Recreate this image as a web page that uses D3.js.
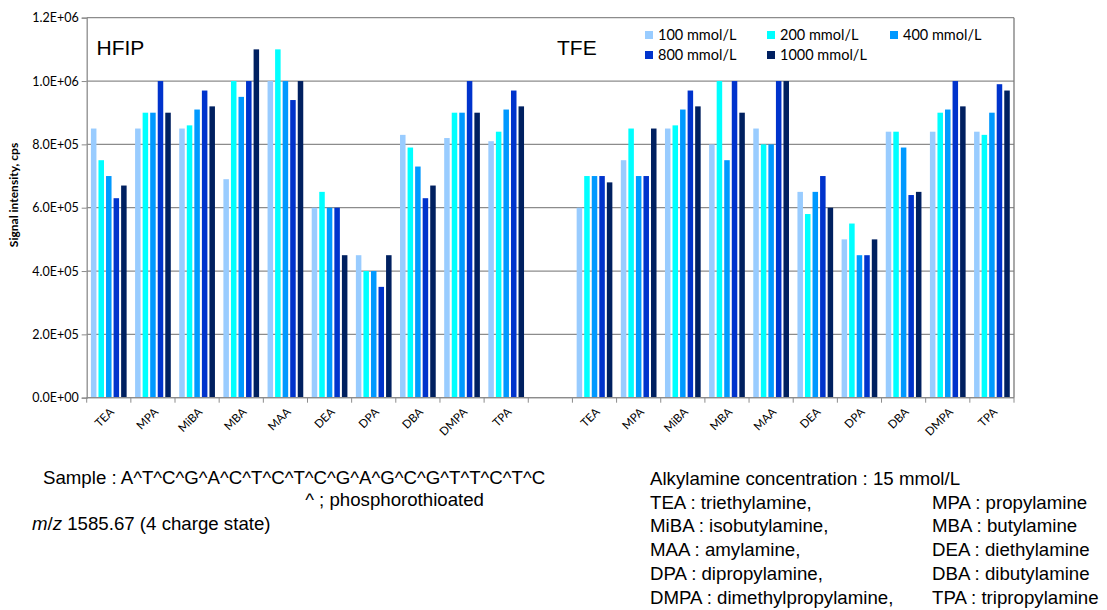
<!DOCTYPE html>
<html><head><meta charset="utf-8">
<script src="https://cdn.jsdelivr.net/npm/d3@7"></script>
<style>body{margin:0;background:#fff}svg{display:block}</style>
</head><body><svg id="c" width="1107" height="610"></svg>
<script>
// ---- data (values in cps) ----
const categories = ["TEA","MPA","MiBA","MBA","MAA","DEA","DPA","DBA","DMPA","TPA"];
const solvents = ["HFIP","TFE"];
const series = ["100 mmol/L","200 mmol/L","400 mmol/L","800 mmol/L","1000 mmol/L"];
const colors = ["#99CCFF","#00FFFF","#0099FF","#0033CC","#002060"];

const hfip100  = [8.5e5,8.5e5,8.5e5,6.9e5,1.0e6,6.0e5,4.5e5,8.3e5,8.2e5,8.1e5];
const hfip200  = [7.5e5,9.0e5,8.6e5,1.0e6,1.1e6,6.5e5,4.0e5,7.9e5,9.0e5,8.4e5];
const hfip400  = [7.0e5,9.0e5,9.1e5,9.5e5,1.0e6,6.0e5,4.0e5,7.3e5,9.0e5,9.1e5];
const hfip800  = [6.3e5,1.0e6,9.7e5,1.0e6,9.4e5,6.0e5,3.5e5,6.3e5,1.0e6,9.7e5];
const hfip1000 = [6.7e5,9.0e5,9.2e5,1.1e6,1.0e6,4.5e5,4.5e5,6.7e5,9.0e5,9.2e5];

const tfe100  = [6.0e5,7.5e5,8.5e5,8.0e5,8.5e5,6.5e5,5.0e5,8.4e5,8.4e5,8.4e5];
const tfe200  = [7.0e5,8.5e5,8.6e5,1.0e6,8.0e5,5.8e5,5.5e5,8.4e5,9.0e5,8.3e5];
const tfe400  = [7.0e5,7.0e5,9.1e5,7.5e5,8.0e5,6.5e5,4.5e5,7.9e5,9.1e5,9.0e5];
const tfe800  = [7.0e5,7.0e5,9.7e5,1.0e6,1.0e6,7.0e5,4.5e5,6.4e5,1.0e6,9.9e5];
const tfe1000 = [6.8e5,8.5e5,9.2e5,9.0e5,1.0e6,6.0e5,5.0e5,6.5e5,9.2e5,9.7e5];

const yTicks = [0,2e5,4e5,6e5,8e5,1.0e6,1.2e6];
const yTitle = "Signal intensity, cps";

const hfipSeries = [hfip100,hfip200,hfip400,hfip800,hfip1000];
const tfeSeries  = [tfe100,tfe200,tfe400,tfe800,tfe1000];

// slots: 10 HFIP categories, one empty slot, 10 TFE categories
const slots = [];
categories.forEach((c,i)=>slots.push({key:"H"+i,label:c,solvent:0,idx:i}));
slots.push({key:"gap",label:"",solvent:-1,idx:-1});
categories.forEach((c,i)=>slots.push({key:"T"+i,label:c,solvent:1,idx:i}));

const bars = [];
slots.forEach(s=>{
  if(s.solvent<0) return;
  const src = s.solvent===0 ? hfipSeries : tfeSeries;
  series.forEach((name,k)=>bars.push({slot:s.key,series:name,k:k,value:src[k][s.idx]}));
});

// ---- layout ----
const svg = d3.select("#c");
const L = 86.7, R = 1014, T = 17.7, B = 397.7;

const x = d3.scaleBand().domain(slots.map(s=>s.key)).range([L,R]).padding(0);
const xi = d3.scaleBand().domain(series).range([0,x.bandwidth()]).paddingInner(0.27).paddingOuter(0.56);
const y = d3.scaleLinear().domain([0,1.2e6]).range([B,T]);

const fmt = v=>{
  if(v===0) return "0.0E+00";
  const e = Math.floor(Math.log10(v));
  const m = v/Math.pow(10,e);
  return m.toFixed(1)+"E+"+String(e).padStart(2,"0");
};
const axisFont = "Lato, 'Open Sans', sans-serif";

// gridlines
svg.append("g").selectAll("line").data(yTicks).join("line")
  .attr("x1",L).attr("x2",R).attr("y1",d=>y(d)).attr("y2",d=>y(d))
  .attr("stroke","#8c8c8c").attr("stroke-width",1.3);

// right border
svg.append("line").attr("x1",R).attr("x2",R).attr("y1",T).attr("y2",B)
  .attr("stroke","#7a7a7a").attr("stroke-width",1.3);

// bars
svg.append("g").selectAll("rect").data(bars).join("rect")
  .attr("x",d=>x(d.slot)+xi(d.series))
  .attr("width",xi.bandwidth())
  .attr("y",d=>y(d.value))
  .attr("height",d=>B-y(d.value))
  .attr("fill",d=>colors[d.k]);

// y axis
const ya = svg.append("g").attr("transform",`translate(${L},0)`)
  .call(d3.axisLeft(y).tickValues(yTicks).tickSize(5).tickPadding(3).tickFormat(fmt));
ya.select(".domain").attr("stroke","#8c8c8c").attr("stroke-width",1.3);
ya.selectAll(".tick line").attr("stroke","#8c8c8c");
ya.selectAll("text").attr("font-family",axisFont).attr("font-size",12.5).attr("fill","#000");

// x axis line
svg.append("line").attr("x1",L).attr("x2",R).attr("y1",B).attr("y2",B)
  .attr("stroke","#8c8c8c").attr("stroke-width",1.3);
// boundary tick marks
svg.append("g").selectAll("line").data(d3.range(slots.length+1)).join("line")
  .attr("x1",i=>L+i*x.step()).attr("x2",i=>L+i*x.step())
  .attr("y1",B).attr("y2",B+5).attr("stroke","#8c8c8c");

// category labels set along 45-degree guide paths (ending below each slot centre)
const labelled = slots.filter(s=>s.label);
const defs = svg.append("defs");
const pathLen = 60, d45 = pathLen*Math.SQRT1_2;
defs.selectAll("path").data(labelled).join("path")
  .attr("id",s=>"lp-"+s.key)
  .attr("d",s=>{
    const ex = x(s.key)+x.bandwidth()/2+6, ey = B+15;
    return `M${ex-d45},${ey+d45}L${ex},${ey}`;
  });
svg.append("g").selectAll("text").data(labelled).join("text")
  .attr("font-family",axisFont).attr("font-size",11.5).attr("fill","#000")
  .append("textPath")
  .attr("href",s=>"#lp-"+s.key)
  .attr("startOffset","100%").attr("text-anchor","end")
  .text(s=>s.label);

// y title
svg.append("text").attr("transform",`translate(18,195) rotate(-90)`)
  .attr("text-anchor","middle").attr("font-family",axisFont)
  .attr("font-weight","bold").attr("font-size",12).text(yTitle);

// solvent labels
[["HFIP",96.5],["TFE",557]].forEach(([t,px])=>{
  svg.append("text").attr("x",px).attr("y",55).attr("font-family","'Liberation Sans', Arial, sans-serif")
    .attr("font-size",21).text(t);
});

// legend
const legPos = [[645,35],[767,35],[890,35],[645,55],[767,55]];
const lg = svg.append("g").selectAll("g").data(series).join("g")
  .attr("transform",(d,i)=>`translate(${legPos[i][0]},${legPos[i][1]})`);
lg.append("rect").attr("x",0).attr("y",-4).attr("width",8).attr("height",8).attr("fill",(d,i)=>colors[i]);
lg.append("text").attr("x",13).attr("y",0).attr("dy","0.35em")
  .attr("font-family",axisFont).attr("font-size",14.5).text(d=>d);

// notes
const noteFont = "'Liberation Sans', Arial, sans-serif";
const fs = 18.67;
const leftNotes = svg.append("g").attr("font-family",noteFont).attr("font-size",fs).attr("fill","#000");
leftNotes.append("text").attr("x",43).attr("y",484).text("Sample : A^T^C^G^A^C^T^C^T^C^G^A^G^C^G^T^T^C^T^C");
leftNotes.append("text").attr("x",484).attr("y",506).attr("text-anchor","end").text("^ ; phosphorothioated");
const mz = leftNotes.append("text").attr("x",32).attr("y",530);
mz.append("tspan").attr("font-style","italic").text("m");
mz.append("tspan").text("/");
mz.append("tspan").attr("font-style","italic").text("z");
mz.append("tspan").text(" 1585.67 (4 charge state)");

const rightLeft = ["Alkylamine concentration : 15 mmol/L","TEA : triethylamine,","MiBA : isobutylamine,","MAA : amylamine,","DPA : dipropylamine,","DMPA : dimethylpropylamine,"];
const rightRight = ["","MPA : propylamine","MBA : butylamine","DEA : diethylamine","DBA : dibutylamine","TPA : tripropylamine"];
const rn = svg.append("g").attr("font-family",noteFont).attr("font-size",fs).attr("fill","#000");
rightLeft.forEach((t,i)=>rn.append("text").attr("x",650).attr("y",485+i*23.7).text(t));
rightRight.forEach((t,i)=>{ if(t) rn.append("text").attr("x",932).attr("y",485+i*23.7).text(t); });
</script>
</body></html>
